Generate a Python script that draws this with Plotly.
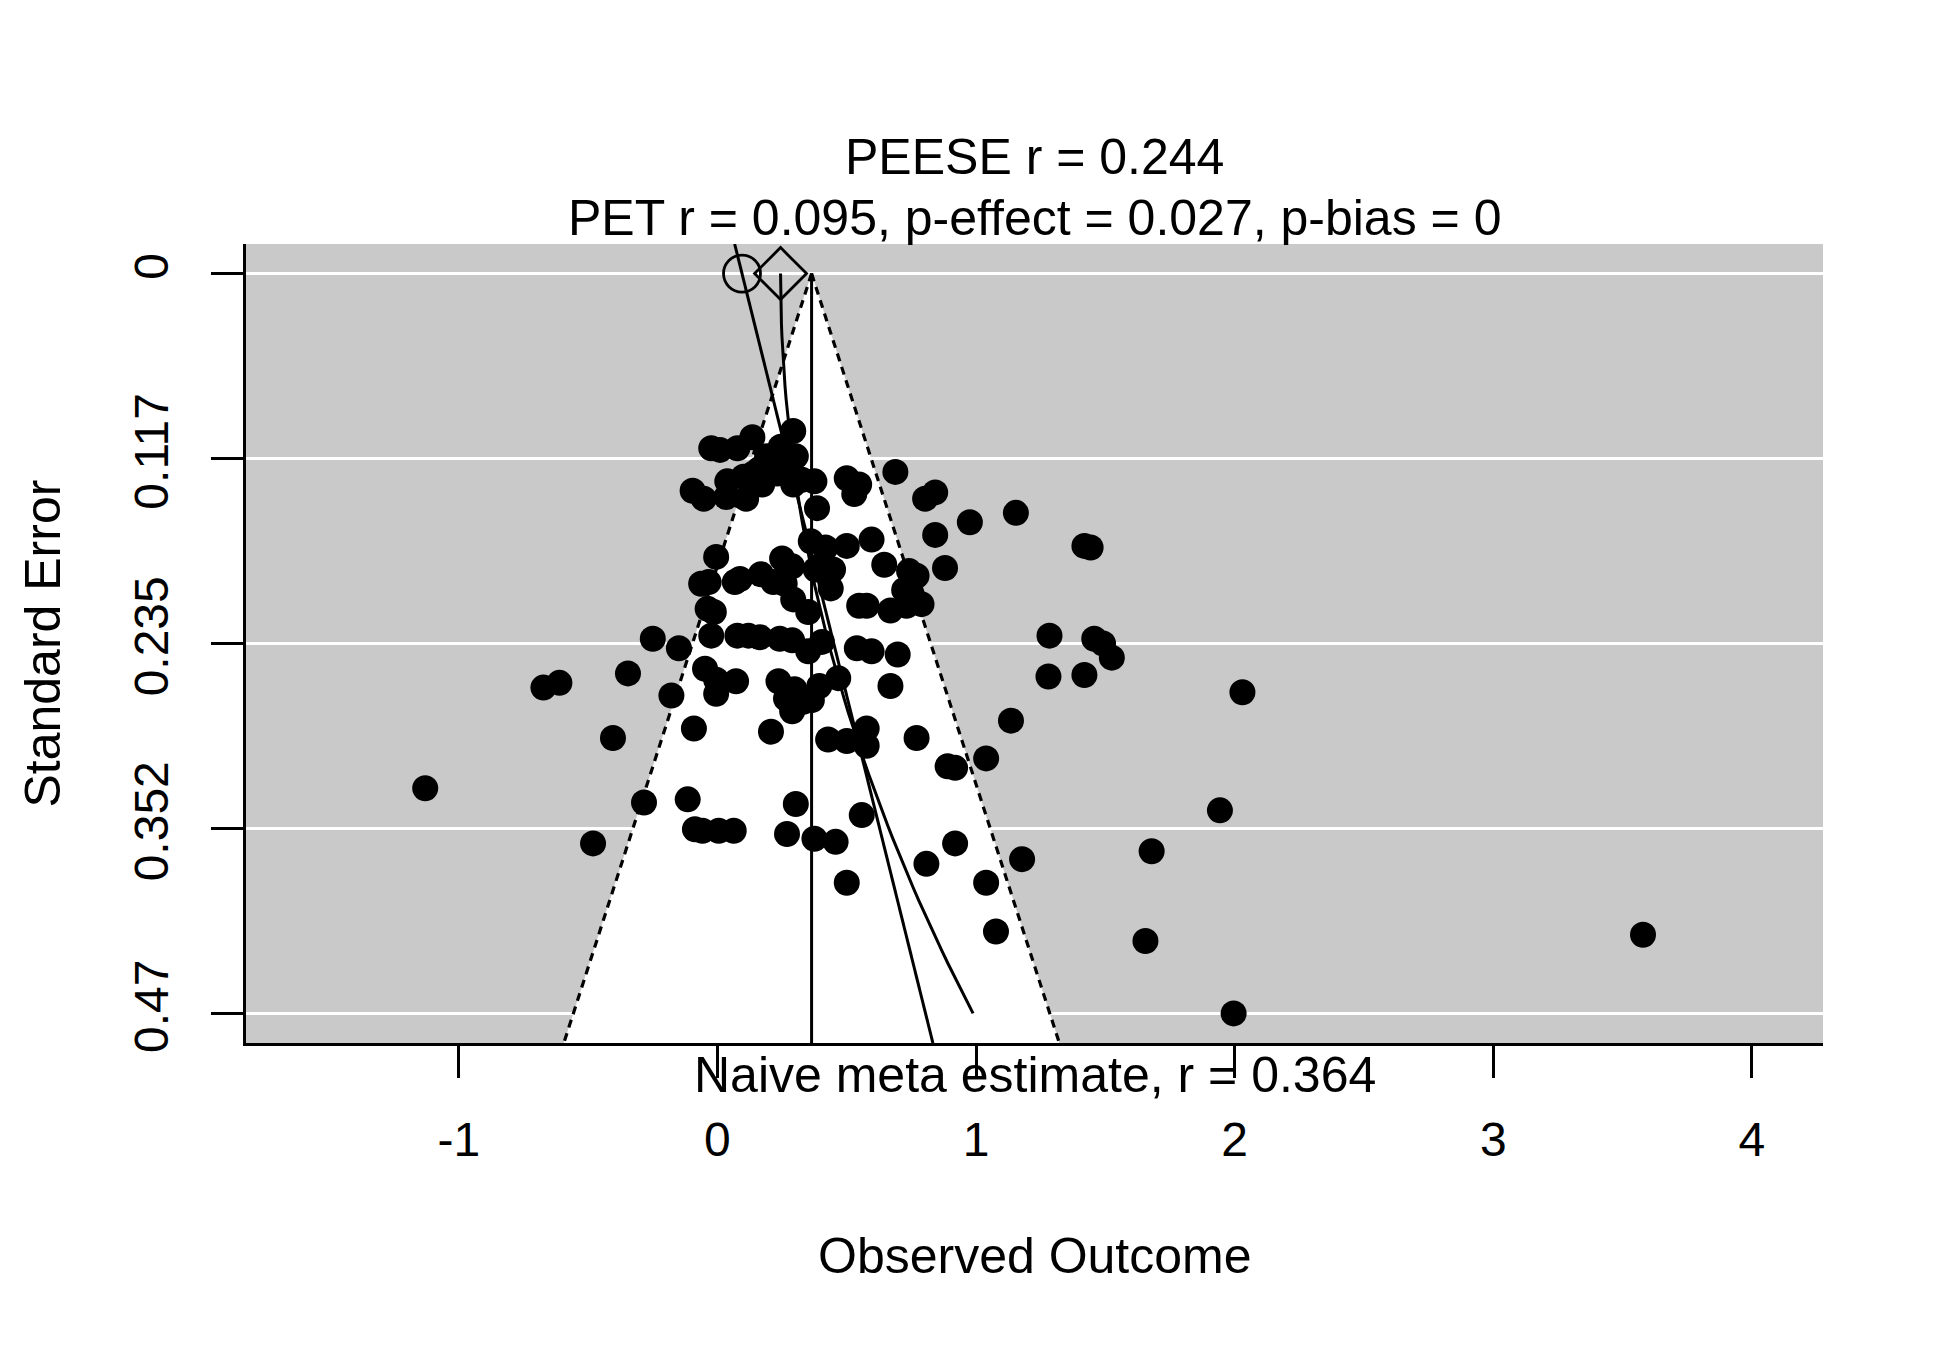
import plotly.graph_objects as go
import numpy as np

# ---- data ----
yi = [0.293, 0.135, -0.024, 0.010, 0.077, 0.245, 0.192, 0.303, 0.164, 0.101,
      0.139, 0.038, 0.231, 0.269, 0.327, 0.375, -0.096, -0.053, 0.034, 0.111,
      0.500, 0.548, 0.529, 0.688, 0.803, 0.842, 0.385, 0.976, 1.154, 0.361,
      0.418, 0.500, 0.596, 0.842, 1.419, 1.443, -0.005, 0.250, 0.289, 0.380,
      0.409, 0.645, 0.741, 0.880, 0.770, 0.168, 0.087, 0.067, -0.063, -0.034,
      0.216, 0.260, 0.438, 0.722, 0.750, 0.731, 0.789, 0.669, 0.548, 0.577,
      0.293, 0.351, -0.038, -0.014, 0.697, -0.024, 0.077, 0.120, 0.164, 0.241,
      0.289, 0.351, 0.404, 0.539, 0.596, -0.250, -0.149, 1.284, 1.457, 1.491,
      1.525, 1.280, 1.419, -0.346, -0.048, -0.005, 0.072, 0.236, 0.298, 0.265,
      0.289, 0.332, 0.365, 0.394, 0.467, 0.669, -0.673, -0.611, -0.178, 2.030,
      -0.404, -0.091, 0.207, 0.428, 0.500, 0.577, 0.577, 0.770, 1.135, 0.890,
      0.919, 1.039, -1.130, -0.284, -0.115, 0.303, 1.943, 0.558, -0.087, -0.058,
      0.005, 0.063, 0.269, 0.375, 0.457, -0.481, 0.919, 0.808, 1.178, 1.679,
      0.500, 1.039, 1.077, 1.655, 3.579, 1.996, -0.005, 0.173, 0.293, 0.447]
sei = [0.100, 0.104, 0.111, 0.112, 0.111, 0.110, 0.116, 0.116, 0.124, 0.129,
       0.127, 0.132, 0.127, 0.124, 0.131, 0.132, 0.138, 0.143, 0.142, 0.143,
       0.130, 0.134, 0.140, 0.126, 0.143, 0.139, 0.149, 0.158, 0.152, 0.170,
       0.174, 0.173, 0.169, 0.166, 0.173, 0.174, 0.180, 0.181, 0.186, 0.188,
       0.184, 0.185, 0.189, 0.187, 0.192, 0.191, 0.194, 0.196, 0.197, 0.196,
       0.196, 0.197, 0.200, 0.201, 0.203, 0.211, 0.210, 0.214, 0.211, 0.211,
       0.207, 0.215, 0.213, 0.215, 0.242, 0.230, 0.230, 0.230, 0.231, 0.232,
       0.233, 0.240, 0.234, 0.238, 0.240, 0.232, 0.238, 0.230, 0.232, 0.235,
       0.244, 0.256, 0.255, 0.254, 0.251, 0.267, 0.259, 0.259, 0.264, 0.270,
       0.278, 0.272, 0.271, 0.262, 0.257, 0.262, 0.263, 0.260, 0.268, 0.266,
       0.295, 0.289, 0.291, 0.296, 0.297, 0.289, 0.300, 0.295, 0.284, 0.313,
       0.314, 0.308, 0.327, 0.336, 0.334, 0.337, 0.341, 0.344, 0.353, 0.354,
       0.354, 0.354, 0.356, 0.359, 0.361, 0.362, 0.362, 0.375, 0.372, 0.367,
       0.387, 0.387, 0.418, 0.424, 0.420, 0.470, 0.258, 0.134, 0.134, 0.188]

naive_r = 0.364
pet_r = 0.095
pet_slope = 1.51
peese_r = 0.244
peese_coef = 3.37
se_max = 0.47

x_tick_vals = [-1, 0, 1, 2, 3, 4]
x_tick_labels = ["-1", "0", "1", "2", "3", "4"]
y_tick_vals = [0, 0.1175, 0.235, 0.3525, 0.47]
y_tick_labels = ["0", "0.117", "0.235", "0.352", "0.47"]

title_peese = "PEESE r = 0.244"
title_pet = "PET r = 0.095, p-effect = 0.027, p-bias = 0"
naive_text = "Naive meta estimate, r = 0.364"
x_title = "Observed Outcome"
y_title = "Standard Error"

# ---- derived ranges (R-style 4% extension) ----
y_lo = -0.04 * se_max
y_hi = se_max * 1.04
x_range = [-1.823, 4.275]

FONT = "Liberation Sans, Arial, Helvetica, sans-serif"

fig = go.Figure()

# white funnel region
crit = 1.96
fig.add_trace(go.Scatter(
    x=[naive_r - crit * y_hi, naive_r, naive_r + crit * y_hi],
    y=[y_hi, 0, y_hi],
    fill="toself", fillcolor="white", mode="lines",
    line=dict(width=0, color="white"), hoverinfo="skip", showlegend=False))

# dotted funnel boundaries
for sgn in (-1, 1):
    fig.add_trace(go.Scatter(
        x=[naive_r, naive_r + sgn * crit * y_hi], y=[0, y_hi],
        mode="lines", line=dict(color="black", width=3.2, dash="8px,6px"),
        hoverinfo="skip", showlegend=False))

# naive estimate vertical line
fig.add_trace(go.Scatter(
    x=[naive_r, naive_r], y=[0, y_hi], mode="lines",
    line=dict(color="black", width=3), hoverinfo="skip", showlegend=False))

# PET line
pet_se = np.array([y_lo, y_hi])
fig.add_trace(go.Scatter(
    x=pet_r + pet_slope * pet_se, y=pet_se, mode="lines",
    line=dict(color="black", width=3), hoverinfo="skip", showlegend=False))

# PEESE curve
peese_se = np.linspace(0, se_max, 60)
fig.add_trace(go.Scatter(
    x=peese_r + peese_coef * peese_se ** 2, y=peese_se, mode="lines",
    line=dict(color="black", width=3), hoverinfo="skip", showlegend=False))

# study points
fig.add_trace(go.Scatter(
    x=yi, y=sei, mode="markers",
    marker=dict(color="black", size=26, line=dict(width=0)),
    showlegend=False))

# PET and PEESE estimate markers
fig.add_trace(go.Scatter(
    x=[pet_r], y=[0], mode="markers",
    marker=dict(symbol="circle-open", size=37, color="black", line=dict(width=2.8)),
    showlegend=False, cliponaxis=False))
fig.add_trace(go.Scatter(
    x=[peese_r], y=[0], mode="markers",
    marker=dict(symbol="diamond-open", size=40, color="black", line=dict(width=2.8)),
    showlegend=False, cliponaxis=False))

fig.update_xaxes(
    range=x_range, tickvals=x_tick_vals, ticktext=x_tick_labels,
    ticks="outside", ticklen=32, tickwidth=2.8, tickcolor="black",
    showline=True, linecolor="black", linewidth=2.8,
    showgrid=False, zeroline=False,
    tickfont=dict(family=FONT, size=48, color="black"),
    ticklabelstandoff=20)
fig.update_yaxes(
    range=[y_hi, y_lo], tickvals=y_tick_vals, ticktext=y_tick_labels,
    ticks="outside", ticklen=32, tickwidth=2.8, tickcolor="black",
    showline=True, linecolor="black", linewidth=2.8,
    showgrid=True, gridcolor="white", gridwidth=3, zeroline=False,
    tickangle=-90,
    tickfont=dict(family=FONT, size=48, color="black"),
    ticklabelstandoff=24)

ann_font = dict(family=FONT, size=50, color="black")
annotations = [
    dict(text=title_peese, x=0.5, y=1.109, xref="paper", yref="paper",
         showarrow=False, font=ann_font, xanchor="center", yanchor="middle"),
    dict(text=title_pet, x=0.5, y=1.0325, xref="paper", yref="paper",
         showarrow=False, font=ann_font, xanchor="center", yanchor="middle"),
    dict(text=naive_text, x=0.5, y=-0.040, xref="paper", yref="paper",
         showarrow=False, font=ann_font, xanchor="center", yanchor="middle"),
    dict(text=x_title, x=0.5, y=-0.2666, xref="paper", yref="paper",
         showarrow=False, font=ann_font, xanchor="center", yanchor="middle"),
    dict(text=y_title, x=-0.1293, y=0.5, xref="paper", yref="paper",
         showarrow=False, font=ann_font, xanchor="center", yanchor="middle",
         textangle=-90),
]

fig.update_layout(
    width=1950, height=1350,
    margin=dict(l=238, r=135, t=236, b=315, autoexpand=False),
    paper_bgcolor="white", plot_bgcolor="#C9C9C9",
    font=dict(family=FONT, color="black"),
    annotations=annotations, showlegend=False)

fig.write_html("out.html")
